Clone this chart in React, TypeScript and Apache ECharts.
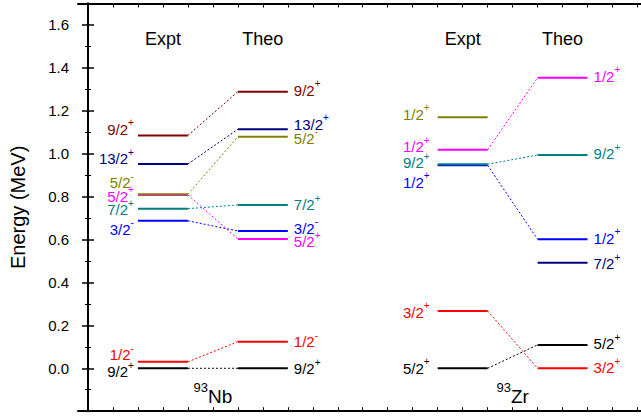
import React, { useEffect, useRef } from "react";
import * as echarts from "echarts";

// ---- data ----
const nbSpins = ["9/2+", "1/2-", "3/2-", "7/2+", "5/2+", "5/2-", "13/2+", "9/2+"];
const nbExpt = [0, 0.03, 0.687, 0.744, 0.808, 0.811, 0.952, 1.085];
const nbTheo = [0, 0.124, 0.64, 0.761, 0.603, 1.079, 1.114, 1.289];

const zrSpins = ["5/2+", "3/2+", "1/2+", "9/2+", "1/2+", "1/2+", "7/2+"];
const zrExpt: (number | null)[] = [0, 0.267, 0.946, 0.951, 1.018, 1.17, null];
const zrTheo: (number | null)[] = [0.109, 0, 0.601, 0.994, 1.354, null, 0.492];

const columnHeaders = ["Expt", "Theo"];
const nuclei = [
  { mass: "93", symbol: "Nb" },
  { mass: "93", symbol: "Zr" },
];
const yTickLabels = ["0.0", "0.2", "0.4", "0.6", "0.8", "1.0", "1.2", "1.4", "1.6"];

// ---- styles ----
const nbColors = ["#000000", "#FF0000", "#0000FF", "#008080", "#FF00FF", "#808000", "#000080", "#800000"];
const zrColors = ["#000000", "#FF0000", "#0000FF", "#008080", "#FF00FF", "#808000", "#000080"];
// label vertical nudges (px)
const nbExptDy = [3.5, -7, 8.5, 1, 1.5, -11.5, -5.5, -6];
const nbTheoDy = [0.5, 0, -2.5, 0, 3, 1.5, -5, -1.5];
const zrExptDy = [0, 1.5, 17, -1.5, -3, -3, 0];
const zrTheoDy = [-1, -0.5, -1, -1, -1.5, 0, 1];

const FONT = "Liberation Sans, Arial, Helvetica, sans-serif";
const MAIN_SIZE = 15;
const SUP_SIZE = 10;
const SUP_RISE = 6.5;

let measureCtx: CanvasRenderingContext2D | null = null;
function textWidth(s: string, size: number) {
  if (!measureCtx) measureCtx = document.createElement("canvas").getContext("2d");
  if (!measureCtx) return s.length * size * 0.55;
  measureCtx.font = `${size}px ${FONT}`;
  return measureCtx.measureText(s).width;
}

function spinTexts(spin: string, x: number, y: number, side: "left" | "right", color: string) {
  const main = spin.slice(0, -1);
  const sup = spin.slice(-1) === "-" ? "-" : "+";
  const mw = textWidth(main, MAIN_SIZE);
  const sw = textWidth(sup, SUP_SIZE);
  const mainX = side === "right" ? x - sw : x;
  const supX = side === "right" ? x - sw : x + mw;
  return [
    {
      type: "text",
      x: mainX,
      y,
      style: {
        text: main,
        fontSize: MAIN_SIZE,
        fontFamily: FONT,
        lineHeight: 12,
        fill: color,
        align: side === "right" ? "right" : "left",
        verticalAlign: "middle",
      },
    },
    {
      type: "text",
      x: supX,
      y: y - SUP_RISE,
      style: {
        text: sup,
        fontSize: SUP_SIZE,
        fontFamily: FONT,
        lineHeight: 7,
        fill: color,
        align: "left",
        verticalAlign: "middle",
      },
    },
  ];
}

type Group = {
  spins: string[];
  expt: (number | null)[];
  theo: (number | null)[];
  colors: string[];
  exptDy: number[];
  theoDy: number[];
  cols: [number, number, number, number];
  exptGap: number;
  theoGap: number;
};

const groups: Group[] = [
  { spins: nbSpins, expt: nbExpt, theo: nbTheo, colors: nbColors, exptDy: nbExptDy, theoDy: nbTheoDy, cols: [1, 2, 3, 4], exptGap: 4, theoGap: 6 },
  { spins: zrSpins, expt: zrExpt, theo: zrTheo, colors: zrColors, exptDy: zrExptDy, theoDy: zrTheoDy, cols: [7, 8, 9, 10], exptGap: 8, theoGap: 6 },
];

function makeSeries(g: Group) {
  return {
    type: "custom",
    xAxisIndex: 0,
    yAxisIndex: 0,
    clip: false,
    data: g.spins.map((_, i) => [i]),
    renderItem: (params: any, api: any) => {
      const i = params.dataIndex;
      const e = g.expt[i];
      const t = g.theo[i];
      const color = g.colors[i];
      const children: any[] = [];
      let eEnd: number[] | null = null;
      let tStart: number[] | null = null;
      if (e !== null && e !== undefined) {
        const a = api.coord([g.cols[0], e]);
        const b = api.coord([g.cols[1], e]);
        eEnd = b;
        children.push({
          type: "line",
          shape: { x1: a[0], y1: a[1], x2: b[0], y2: b[1] },
          style: { stroke: color, lineWidth: 2 },
        });
        children.push(...spinTexts(g.spins[i], a[0] - g.exptGap, a[1] + g.exptDy[i], "right", color));
      }
      if (t !== null && t !== undefined) {
        const a = api.coord([g.cols[2], t]);
        const b = api.coord([g.cols[3], t]);
        tStart = a;
        children.push({
          type: "line",
          shape: { x1: a[0], y1: a[1], x2: b[0], y2: b[1] },
          style: { stroke: color, lineWidth: 2 },
        });
        children.push(...spinTexts(g.spins[i], b[0] + g.theoGap, b[1] + g.theoDy[i], "left", color));
      }
      if (eEnd && tStart) {
        children.unshift({
          type: "line",
          shape: { x1: eEnd[0], y1: eEnd[1], x2: tStart[0], y2: tStart[1] },
          style: { stroke: color, lineWidth: 1, lineDash: [2, 2] },
        });
      }
      return { type: "group", children };
    },
  };
}

const xTicks: number[] = [];
for (let k = 0; k <= 22; k++) xTicks.push(k * 0.5);

export default function App() {
  const ref = useRef<HTMLDivElement>(null);
  useEffect(() => {
    if (!ref.current) return;
    const chart = echarts.init(ref.current, undefined, { renderer: "svg" });
    const xBase = {
      type: "value",
      min: -0.2,
      max: 11.1,
      axisLine: { show: true, onZero: false, lineStyle: { color: "#000", width: 2 } },
      axisTick: { show: true, inside: true, length: 4, customValues: xTicks, lineStyle: { color: "#000", width: 1 } },
      axisLabel: { show: false },
      splitLine: { show: false },
    };
    const yBase = {
      type: "value",
      min: -0.2,
      max: 1.7,
      interval: 0.2,
      axisLine: { show: true, lineStyle: { color: "#000", width: 2 } },
      axisTick: { show: true, inside: true, length: 6, lineStyle: { color: "#000", width: 1.5 } },
      minorTick: { show: true, splitNumber: 2, length: 3, lineStyle: { color: "#000", width: 1 } },
      splitLine: { show: false },
      minorSplitLine: { show: false },
    };
    chart.setOption({
      animation: false,
      textStyle: { fontFamily: FONT },
      grid: { left: 77, right: 17.5, top: 3.5, bottom: 5.8, containLabel: false },
      xAxis: [
        { ...xBase, position: "bottom" },
        { ...xBase, position: "top" },
      ],
      yAxis: [
        {
          ...yBase,
          position: "left",
          name: "Energy (MeV)",
          nameLocation: "middle",
          nameGap: 50,
          nameTextStyle: { fontSize: 20, color: "#000", fontFamily: FONT },
          axisLabel: {
            show: true,
            fontSize: 15,
            color: "#000",
            margin: 9,
            fontFamily: FONT,
            showMinLabel: false,
            showMaxLabel: false,
            formatter: (v: number) => {
              const idx = Math.round(v / 0.2);
              return idx >= 0 && idx < yTickLabels.length && Math.abs(v - idx * 0.2) < 1e-6 ? yTickLabels[idx] : "";
            },
          },
        },
        { ...yBase, position: "right", axisLabel: { show: false } },
      ],
      series: groups.map(makeSeries),
    });

    const graphics: any[] = [];
    groups.forEach((g, gi) => {
      columnHeaders.forEach((h, hi) => {
        const cx = (g.cols[hi * 2] + g.cols[hi * 2 + 1]) / 2;
        const p = chart.convertToPixel({ xAxisIndex: 0, yAxisIndex: 0 }, [cx, 1.534]) as number[];
        graphics.push({
          type: "text",
          x: p[0],
          y: p[1],
          style: { text: h, fontSize: 18, fontFamily: FONT, fill: "#000", align: "center", verticalAlign: "middle" },
        });
      });
      const mid = (g.cols[1] + g.cols[2]) / 2;
      const q = chart.convertToPixel({ xAxisIndex: 0, yAxisIndex: 0 }, [mid, -0.13]) as number[];
      graphics.push({
        type: "text",
        x: q[0],
        y: q[1],
        style: {
          text: `{s|${nuclei[gi].mass}}{n|${nuclei[gi].symbol}}`,
          rich: {
            n: { fontSize: 19, lineHeight: 30, fontFamily: FONT, fill: "#000" },
            s: { fontSize: 13, lineHeight: 14, verticalAlign: "top", fontFamily: FONT, fill: "#000" },
          },
          fill: "#000",
          align: "center",
          verticalAlign: "middle",
        },
      });
    });
    chart.setOption({ graphic: graphics });

    return () => chart.dispose();
  }, []);
  return (
    <div style={{ position: "fixed", left: 0, top: 0, width: 641, height: 417, overflow: "hidden", background: "#fff" }}>
      <div ref={ref} style={{ width: 660, height: 417 }} />
    </div>
  );
}
